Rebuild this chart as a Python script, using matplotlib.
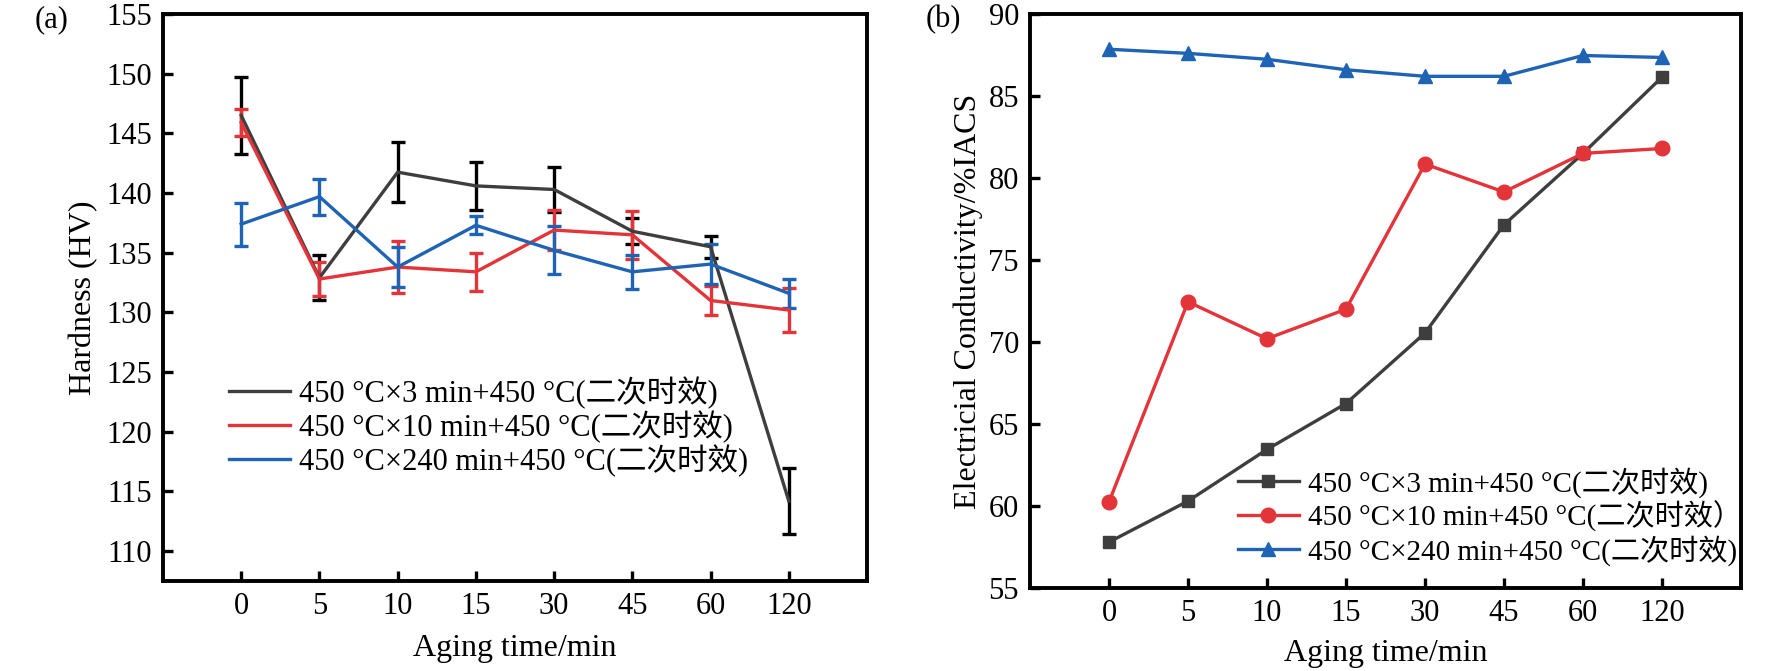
import matplotlib
matplotlib.use('Agg')
import matplotlib.pyplot as plt
import numpy as np

plt.rcParams['font.family'] = ['Liberation Serif', 'Noto Sans CJK SC', 'DejaVu Sans']
plt.rcParams['mathtext.fontset'] = 'stix'

# Data #

times = ['0', '5', '10', '15', '30', '45', '60', '120']

labels_a = ['450 °C×3 min+450 °C(二次时效)',
            '450 °C×10 min+450 °C(二次时效)',
            '450 °C×240 min+450 °C(二次时效)']
labels_b = ['450 °C×3 min+450 °C(二次时效)',
            '450 °C×10 min+450 °C(二次时效）',
            '450 °C×240 min+450 °C(二次时效)']

hard_3 = [146.5, 132.9, 141.75, 140.6, 140.3, 136.8, 135.5, 114.2]
hard_3_err = [3.2, 1.9, 2.5, 2.0, 1.9, 1.1, 0.9, 2.8]
hard_10 = [145.9, 132.8, 133.8, 133.4, 136.9, 136.5, 131.0, 130.2]
hard_10_err = [1.1, 1.4, 2.2, 1.6, 1.7, 2.0, 1.2, 1.85]
hard_240 = [137.4, 139.7, 133.8, 137.3, 135.2, 133.4, 134.05, 131.6]
hard_240_err = [1.8, 1.5, 1.7, 0.75, 2.0, 1.4, 1.65, 1.2]

cond_3 = [57.8, 60.3, 63.45, 66.25, 70.55, 77.15, 81.5, 86.15]
cond_10 = [60.25, 72.45, 70.2, 72.0, 80.85, 79.15, 81.5, 81.8]
cond_240 = [87.85, 87.6, 87.24, 86.6, 86.2, 86.2, 87.47, 87.35]

gray = '#3e3e3e'
red = '#e3343a'
blue = '#1f63b5'

x = np.arange(len(times))

fig = plt.figure(figsize=(17.72, 6.71), dpi=100)
ax1 = fig.add_axes([163/1772, 1 - 581/671, 704/1772, 567/671])
ax2 = fig.add_axes([1030/1772, 1 - 588/671, 711/1772, 574/671])

# (a) Hardness #

ax1.errorbar(x, hard_3, yerr=hard_3_err, color=gray, ecolor='black', lw=2.4,
             elinewidth=2.4, capsize=4.8, capthick=2.4, label=labels_a[0])
ax1.errorbar(x, hard_10, yerr=hard_10_err, color=red, ecolor=red, lw=2.4,
             elinewidth=2.4, capsize=4.8, capthick=2.4, label=labels_a[1])
ax1.errorbar(x, hard_240, yerr=hard_240_err, color=blue, ecolor=blue, lw=2.4,
             elinewidth=2.4, capsize=4.8, capthick=2.4, label=labels_a[2])

ax1.set_xlim(-1, 8)
ax1.set_ylim(107.5, 155)
ax1.set_yticks(np.arange(110, 156, 5))
ax1.set_ylabel('Hardness (HV)', fontsize=23)
ax1.yaxis.set_label_coords(-0.092, 0.5)
ax1.set_xlabel('Aging time/min', fontsize=23, labelpad=9)

h, l = ax1.get_legend_handles_labels()
h = [hh[0] for hh in h]
ax1.legend(h, l, loc='center left', bbox_to_anchor=(0.094, 0.272), frameon=False,
           fontsize=22, handlelength=2.0, handletextpad=0.3, labelspacing=0.05,
           borderpad=0, borderaxespad=0)

# (b) Conductivity #

ax2.plot(x, cond_3, color=gray, lw=2.4, marker='s', ms=9, label=labels_b[0])
ax2.plot(x, cond_10, color=red, lw=2.4, marker='o', ms=10.5, label=labels_b[1])
ax2.plot(x, cond_240, color=blue, lw=2.4, marker='^', ms=10.5, label=labels_b[2])

ax2.set_xlim(-1, 8)
ax2.set_ylim(55, 90)
ax2.set_yticks(np.arange(55, 91, 5))
ax2.set_ylabel('Electricial Conductivity/%IACS', fontsize=23)
ax2.yaxis.set_label_coords(-0.066, 0.5)
ax2.set_xlabel('Aging time/min', fontsize=23, labelpad=8)
ax2.legend(loc='center left', bbox_to_anchor=(0.292, 0.125), frameon=False,
           fontsize=21, handlelength=2.1, handletextpad=0.3, labelspacing=0.1,
           borderpad=0, borderaxespad=0)

for ax in (ax1, ax2):
    ax.set_xticks(x)
    ax.set_xticklabels(times)
    for s in ax.spines.values():
        s.set_linewidth(2.8)
    ax.tick_params(direction='in', length=7, width=2.4, labelsize=22, pad=8)

fig.text(52/1772, 1 - 20/671, '(a)', fontsize=22, ha='center', va='center')
fig.text(943/1772, 1 - 20/671, '(b)', fontsize=22, ha='center', va='center')

fig.savefig('out.png', dpi=100)
